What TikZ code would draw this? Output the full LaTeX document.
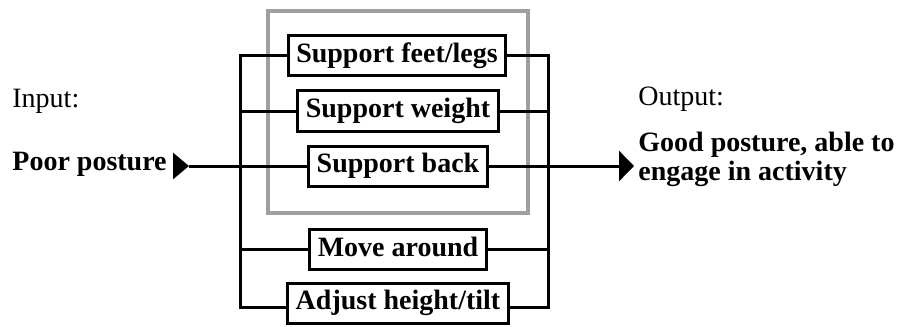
\documentclass[tikz,border=0pt]{standalone}
\usepackage{fontspec}
\setmainfont{Liberation Serif}
\usetikzlibrary{arrows.meta}

\begin{document}
\begin{tikzpicture}[x=0.5pt, y=-0.5pt,
    every node/.style={font=\fontsize{14}{14.5}\selectfont, inner sep=0pt},
    act/.style={draw, line width=1.5pt, font=\fontsize{14}{14.5}\selectfont\bfseries,
      text height=9.75pt, text depth=3.25pt, inner xsep=4pt, inner ysep=3.5pt},
    wire/.style={line width=1.5pt},
    intri/.style={-{Triangle[length=8pt,width=13pt]}},
    outtri/.style={-{Triangle[length=7.5pt,width=15pt]}}]
  \useasboundingbox (0,0) rectangle (903,326);

  % grey frame round the three supports
  \draw[line width=2.2pt, gray!75] (268,11) rectangle (528,213);

  \node[act] (feet)   at (397,55.5) {Support feet/legs};
  \node[act] (weight) at (398,111)  {Support weight};
  \node[act] (back)   at (398,166)  {Support back};
  \node[act] (move)   at (398,249.5){Move around};
  \node[act] (adjust) at (398,303)  {Adjust height/tilt};

  \node[anchor=base west] (inlabel) at (12,107) {Input:};
  \node[anchor=base west, font=\fontsize{14}{14.5}\selectfont\bfseries] (poor) at (12,170) {Poor posture};
  \node[anchor=base west] (outlabel) at (638,105) {Output:};
  \node[anchor=base west, align=left, font=\fontsize{14}{14.5}\selectfont\bfseries] (good) at (638,180)
    {Good posture, able to\\engage in activity};

  % bus lines either side
  \coordinate (lb) at (240,307);
  \coordinate (rb) at (548,307);
  \coordinate (intail) at (173,166);
  \coordinate (in) at (189,166);
  \coordinate (out) at (634,166);

  \draw[wire] (feet.west) -| (lb) -- (lb -| adjust.west);
  \draw[wire] (weight.west) -- (weight.west -| lb);
  \draw[wire] (move.west) -- (move.west -| lb);
  \draw[wire] (feet.east) -| (rb) -- (rb -| adjust.east);
  \draw[wire] (weight.east) -- (weight.east -| rb);
  \draw[wire] (move.east) -- (move.east -| rb);

  % in and out
  \draw[wire, intri] (intail) -- (in);
  \draw[wire] (in) -- (back.west);
  \draw[wire, outtri] (back.east) -- (out);
\end{tikzpicture}
\end{document}
